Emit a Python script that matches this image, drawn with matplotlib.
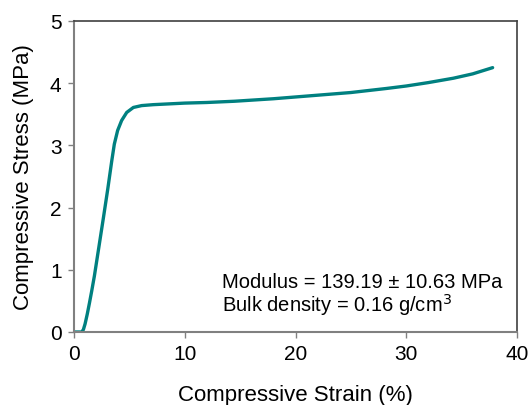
import matplotlib
matplotlib.use("Agg")
import matplotlib.pyplot as plt

plt.rcParams['font.family'] = ['Liberation Sans', 'DejaVu Sans']

# Compressive strain (%) and stress (MPa) of the foam sample
strain = [0.0, 0.4, 0.7, 0.85, 1.0, 1.2, 1.4, 1.6, 1.84, 2.25, 2.65, 3.05,
          3.4, 3.64, 3.94, 4.3, 4.76, 5.36, 6.11, 7.16, 10.0, 12.0, 14.5,
          18.0, 22.2, 25.0, 28.2, 30.0, 32.0, 34.25, 36.0, 37.8]
stress = [0.0, 0.0, 0.0, 0.04, 0.13, 0.29, 0.47, 0.66, 0.9, 1.37, 1.83, 2.3,
          2.74, 3.02, 3.24, 3.40, 3.53, 3.61, 3.64, 3.655, 3.68, 3.69, 3.71,
          3.75, 3.81, 3.85, 3.915, 3.955, 4.01, 4.08, 4.15, 4.25]

x_ticks = [0, 10, 20, 30, 40]
y_ticks = [0, 1, 2, 3, 4, 5]
annotation = ["Modulus = 139.19 ± 10.63 MPa", "Bulk density = 0.16 g/cm$^3$"]

fig = plt.figure(figsize=(5.31, 4.06), dpi=100)
ax = fig.add_axes([74 / 531, 1 - 333 / 406, 443 / 531, 311 / 406])

ax.plot(strain, stress, color='#008080', lw=2.4, solid_capstyle='round',
        solid_joinstyle='round')

ax.set_xlim(0, 40)
ax.set_ylim(0, 5)
ax.set_xticks(x_ticks)
ax.set_yticks(y_ticks)
ax.tick_params(direction='out', length=4, width=1, colors='#808080',
               labelcolor='black', labelsize=15, pad=5)

for side in ('left', 'bottom'):
    ax.spines[side].set_color('#808080')
    ax.spines[side].set_linewidth(1.5)
for side in ('top', 'right'):
    ax.spines[side].set_color('#404040')
    ax.spines[side].set_linewidth(1.2)

ax.set_xlabel('Compressive Strain (%)', fontsize=16, labelpad=15)
ax.set_ylabel('Compressive Stress (MPa)', fontsize=16, labelpad=11)

ax.text(13.35, 0.72, annotation[0], fontsize=14.5, va='baseline')
ax.text(13.35, 0.34, annotation[1], fontsize=14.5, va='baseline')

fig.savefig('out.png', dpi=100)
